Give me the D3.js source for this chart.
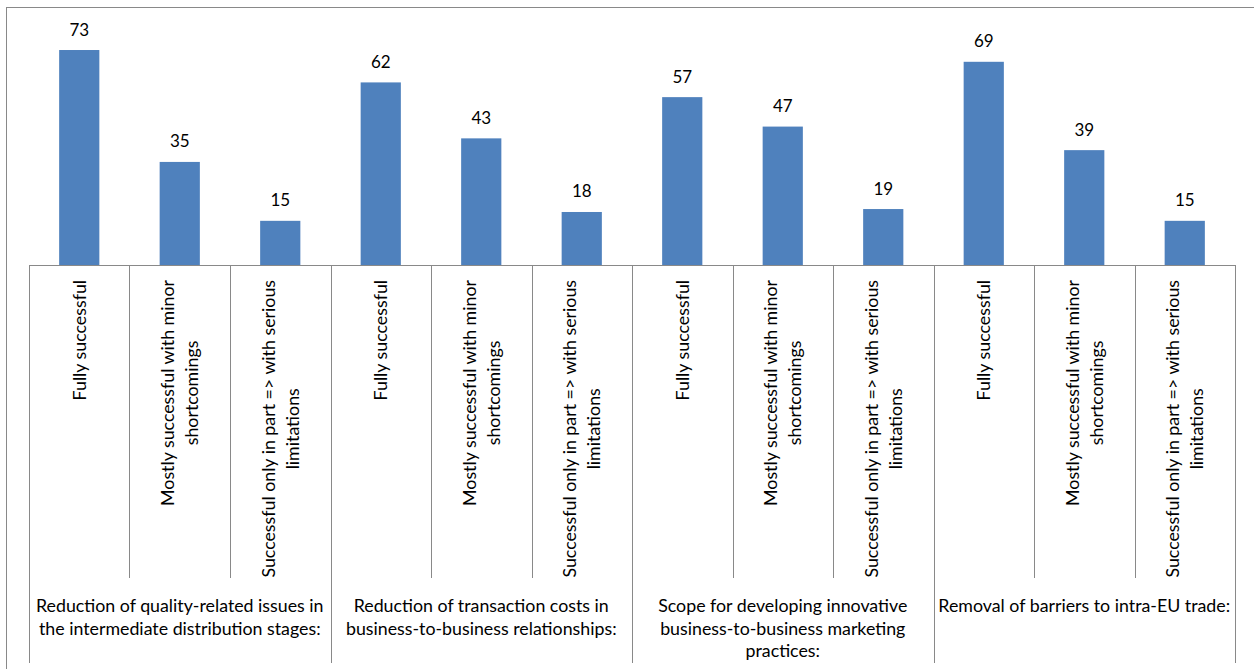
<!DOCTYPE html>
<html>
<head>
<meta charset="utf-8">
<script src="https://cdn.jsdelivr.net/npm/d3@7"></script>
<style>
  html, body { margin: 0; padding: 0; background: #fff; }
  svg { display: block; }
  text { font-family: Lato, "Open Sans", sans-serif; fill: #000; }
</style>
</head>
<body>
<svg id="chart" width="1254" height="669"></svg>
<script>
// Objectives (outer category level), each line of the label as a separate string
const groups = [
  ["Reduction of quality-related issues in", "the intermediate distribution stages:"],
  ["Reduction of transaction costs in", "business-to-business relationships:"],
  ["Scope for developing innovative", "business-to-business marketing", "practices:"],
  ["Removal of barriers to intra-EU trade:"]
];

// Assessment levels (inner category level)
const answers = [
  ["Fully successful"],
  ["Mostly successful with minor", "shortcomings"],
  ["Successful only in part => with serious", "limitations"]
];

// Number of responses per objective, in the order of the assessment levels
const values = [
  [73, 35, 15],
  [62, 43, 18],
  [57, 47, 19],
  [69, 39, 15]
];

// Flat list of bars
const rows = [];
groups.forEach((g, gi) => {
  answers.forEach((a, ai) => {
    rows.push({ key: gi + "-" + ai, group: gi, answer: ai, value: values[gi][ai] });
  });
});

const svg = d3.select("#chart");
const axisColor = "#898989";
const barColor = "#4F81BD";
const labelSize = 17.8;

const left = 29, right = 1235, baseY = 265;
const innerTickEnd = 578, groupTickEnd = 663;

const x = d3.scaleBand()
  .domain(rows.map(d => d.key))
  .range([left, right])
  .paddingInner(0.6)
  .paddingOuter(0.3);

const y = d3.scaleLinear()
  .domain([0, 80])
  .range([baseY, baseY - 80 * 2.945]);

const step = x.step();
const boundary = d => x(d.key) - x.paddingInner() * step / 2;

// Outer frame of the chart area
svg.append("rect")
  .attr("x", 6.5).attr("y", 7.5)
  .attr("width", 1400).attr("height", 800)
  .attr("fill", "none")
  .attr("stroke", axisColor)
  .attr("stroke-width", 1);

// Bars
svg.append("g").selectAll("rect")
  .data(rows)
  .join("rect")
  .attr("x", d => x(d.key))
  .attr("y", d => y(d.value))
  .attr("width", x.bandwidth())
  .attr("height", d => y(0) - y(d.value))
  .attr("fill", barColor);

// Value labels
svg.append("g").selectAll("text")
  .data(rows)
  .join("text")
  .attr("x", d => x(d.key) + x.bandwidth() / 2)
  .attr("y", d => y(d.value) - 14.5)
  .attr("text-anchor", "middle")
  .attr("font-size", 17)
  .text(d => d.value);

// Category axis line
const axis = d3.axisBottom(x).tickSize(0).tickFormat("");
const axisG = svg.append("g").attr("transform", `translate(0,${baseY})`).call(axis);
axisG.select(".domain").attr("stroke", axisColor).attr("d", `M${left},0.5H${right}`);

// Separators between categories; longer ones between objectives
const seps = rows.map(d => ({ xPos: boundary(d), major: d.answer === 0 }));
seps.push({ xPos: right, major: true });
svg.append("g").selectAll("line")
  .data(seps)
  .join("line")
  .attr("x1", d => Math.round(d.xPos) + 0.5)
  .attr("x2", d => Math.round(d.xPos) + 0.5)
  .attr("y1", baseY)
  .attr("y2", d => d.major ? groupTickEnd : innerTickEnd)
  .attr("stroke", axisColor);

// Rotated assessment labels
const lineH = 24;
const rot = svg.append("g").selectAll("g")
  .data(rows)
  .join("g")
  .attr("transform", d => `translate(${x(d.key) + x.bandwidth() / 2},280) rotate(-90)`);

rot.each(function (d) {
  const lines = answers[d.answer];
  const g = d3.select(this);
  const texts = g.selectAll("text")
    .data(lines)
    .join("text")
    .attr("font-size", labelSize)
    .attr("text-anchor", "middle")
    .attr("y", (t, i) => (i - (lines.length - 1) / 2) * lineH + 6.5)
    .text(t => t);
  let maxLen = 0;
  texts.each(function () { maxLen = Math.max(maxLen, this.getComputedTextLength()); });
  texts.attr("x", -maxLen / 2);
});

// Objective labels
const groupStep = step * answers.length;
svg.append("g").selectAll("text")
  .data(groups)
  .join("text")
  .attr("text-anchor", "middle")
  .attr("font-size", labelSize)
  .attr("transform", (g, i) => `translate(${left + groupStep * (i + 0.5)},612)`)
  .selectAll("tspan")
  .data(g => g)
  .join("tspan")
  .attr("x", 0)
  .attr("y", (t, i) => i * 22.5)
  .text(t => t);
</script>
</body>
</html>
